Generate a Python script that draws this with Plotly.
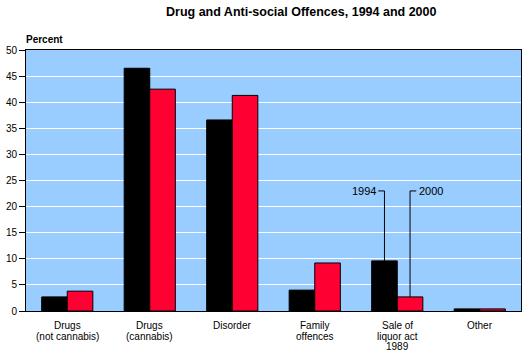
import plotly.graph_objects as go

categories = ["Drugs<br>(not cannabis)", "Drugs<br>(cannabis)", "Disorder",
              "Family<br>offences", "Sale of<br>liquor act<br>1989", "Other"]
v1994 = [2.7, 46.5, 36.6, 4.0, 9.6, 0.4]
v2000 = [3.8, 42.5, 41.3, 9.2, 2.7, 0.4]
yticks = [0, 5, 10, 15, 20, 25, 30, 35, 40, 45, 50]

FONT = "Liberation Sans, Arial, sans-serif"
x = list(range(len(categories)))

fig = go.Figure()
fig.add_trace(go.Bar(x=x, y=v1994, name="1994", marker=dict(color="#000000", line=dict(color="black", width=1))))
fig.add_trace(go.Bar(x=x, y=v2000, name="2000", marker=dict(color="#FF0033", line=dict(color="black", width=1))))

bargap = 0.38
off = (1 - bargap) / 4
label_y = 23.0
idx = 4
# callout lines
fig.add_shape(type="line", xref="x", yref="y", x0=idx - off, x1=idx - off, y0=v1994[idx], y1=label_y,
              line=dict(color="black", width=1))
fig.add_shape(type="line", xref="x", yref="y", x0=idx - off, x1=idx - off - 0.075, y0=label_y, y1=label_y,
              line=dict(color="black", width=1))
fig.add_shape(type="line", xref="x", yref="y", x0=idx + off, x1=idx + off, y0=v2000[idx], y1=label_y,
              line=dict(color="black", width=1))
fig.add_shape(type="line", xref="x", yref="y", x0=idx + off, x1=idx + off + 0.075, y0=label_y, y1=label_y,
              line=dict(color="black", width=1))
fig.add_annotation(x=idx - off - 0.08, y=label_y, xref="x", yref="y", text="1994", showarrow=False,
                   xanchor="right", yanchor="middle", font=dict(size=11, color="black", family=FONT))
fig.add_annotation(x=idx + off + 0.08, y=label_y, xref="x", yref="y", text="2000", showarrow=False,
                   xanchor="left", yanchor="middle", font=dict(size=11, color="black", family=FONT))

# category labels, one annotation per line for tighter line spacing
for i, cat in enumerate(categories):
    for k, line in enumerate(cat.split("<br>")):
        fig.add_annotation(x=i, y=0, xref="x", yref="paper", text=line, showarrow=False,
                           xanchor="center", yanchor="top", yshift=-7 - k * 10.5,
                           font=dict(size=10, color="black", family=FONT))

fig.add_annotation(x=0.556, y=1, xref="paper", yref="paper", yshift=38, text="<b>Drug and Anti-social Offences, 1994 and 2000</b>",
                   showarrow=False, xanchor="center", yanchor="middle", font=dict(size=12.5, color="black", family=FONT))
fig.add_annotation(x=0, y=1, xref="paper", yref="paper", yshift=11, xshift=-2, text="<b>Percent</b>",
                   showarrow=False, xanchor="left", yanchor="middle", font=dict(size=10, color="black", family=FONT))

fig.update_layout(
    width=523, height=351,
    margin=dict(l=26, r=2, t=50, b=40),
    paper_bgcolor="white", plot_bgcolor="#99CCFF",
    barmode="group", bargap=bargap, bargroupgap=0,
    showlegend=False,
    font=dict(family=FONT, size=10, color="black"),
)
fig.update_xaxes(tickmode="array", tickvals=x, ticktext=categories, showticklabels=False, range=[-0.5, 5.5],
                 showgrid=False, showline=True, linecolor="black", linewidth=1, mirror=True,
                 ticks="", automargin=False, fixedrange=True)
fig.update_yaxes(range=[0, 50], tickvals=yticks, showgrid=True, gridcolor="white", gridwidth=1,
                 showline=True, linecolor="black", linewidth=1, mirror=True,
                 ticks="outside", ticklen=6, tickcolor="black", tickfont=dict(size=10),
                 zeroline=False, automargin=False, fixedrange=True)

fig.write_html("out.html")
